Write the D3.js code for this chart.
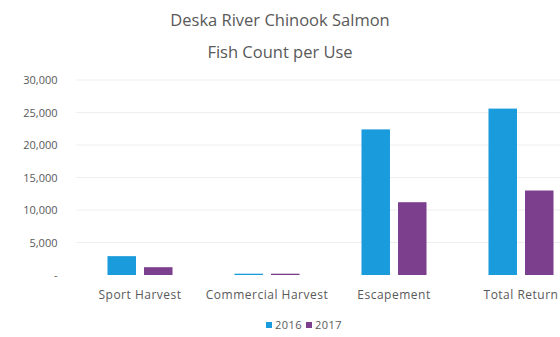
<!DOCTYPE html>
<html>
<head>
<meta charset="utf-8">
<script src="https://cdn.jsdelivr.net/npm/d3@7"></script>
<style>
  body { margin: 0; background: #fff; }
  text { font-family: "Open Sans", sans-serif; fill: #595959; }
</style>
</head>
<body>
<svg id="chart"></svg>
<script>
const categories = ['Sport Harvest', 'Commercial Harvest', 'Escapement', 'Total Return'];
const series = ['2016', '2017'];
const values2016 = [2900, 200, 22400, 25600];
const values2017 = [1200, 200, 11200, 13000];
const yTicks = [0, 5000, 10000, 15000, 20000, 25000, 30000];
const titleLines = ['Deska River Chinook Salmon', 'Fish Count per Use'];

const colors = {'2016': '#1a9bdb', '2017': '#7b3f8e'};
const [width, height] = [560, 337];
const svg = d3.select('#chart').attr('width', width).attr('height', height);

// plot area runs past the right edge, like the cropped original
const plotLeft = 76.5, plotRight = 584.5, plotTop = 80, plotBottom = 275;

const x0 = d3.scaleBand().domain(categories).range([plotLeft, plotRight])
  .paddingInner(0.488).paddingOuter(0.244);
const x1 = d3.scaleBand().domain(series).range([0, x0.bandwidth()]).paddingInner(0.22);
const y = d3.scaleLinear().domain([0, 30000]).range([plotBottom, plotTop]);

svg.append('g')
  .selectAll('line')
  .data(yTicks.slice(1))
  .join('line')
  .attr('x1', plotLeft).attr('x2', width)
  .attr('y1', d => y(d)).attr('y2', d => y(d))
  .attr('stroke', '#eeeeee');

const yAxis = svg.append('g')
  .attr('transform', `translate(${plotLeft - 16},0)`)
  .call(d3.axisLeft(y).tickValues(yTicks).tickSize(0)
    .tickFormat(d => d === 0 ? '-' : d3.format(',')(d)));
yAxis.select('.domain').remove();
yAxis.selectAll('text').style('font-size', '11px').attr('fill', '#595959');

const rows = categories.map((c, i) => ({cat: c, vals: [values2016[i], values2017[i]]}));
svg.append('g')
  .selectAll('g')
  .data(rows)
  .join('g')
  .attr('transform', d => `translate(${x0(d.cat)},0)`)
  .selectAll('rect')
  .data(d => d.vals.map((v, j) => ({key: series[j], v})))
  .join('rect')
  .attr('x', d => x1(d.key))
  .attr('width', x1.bandwidth())
  .attr('y', d => y(d.v))
  .attr('height', d => y(0) - y(d.v))
  .attr('fill', d => colors[d.key]);

const xAxis = svg.append('g')
  .attr('transform', `translate(0,${plotBottom + 12})`)
  .call(d3.axisBottom(x0).tickSize(0));
xAxis.select('.domain').remove();
xAxis.selectAll('text')
  .style('font-size', '12px')
  .style('letter-spacing', '0.5px')
  .attr('fill', '#595959');

svg.append('g')
  .selectAll('text')
  .data(titleLines)
  .join('text')
  .attr('x', 280)
  .attr('y', (d, i) => 26 + i * 32)
  .attr('text-anchor', 'middle')
  .style('font-size', '16.5px')
  .text(d => d);

const legend = svg.append('g').attr('transform', 'translate(266,329)');
const item = legend.selectAll('g')
  .data(series)
  .join('g')
  .attr('transform', (d, i) => `translate(${i * 40},0)`);
item.append('rect')
  .attr('x', 0).attr('y', -7)
  .attr('width', 6).attr('height', 6)
  .attr('fill', d => colors[d]);
item.append('text')
  .attr('x', 9).attr('y', 0)
  .style('font-size', '11px')
  .style('letter-spacing', '0.5px')
  .text(d => d);
</script>
</body>
</html>
